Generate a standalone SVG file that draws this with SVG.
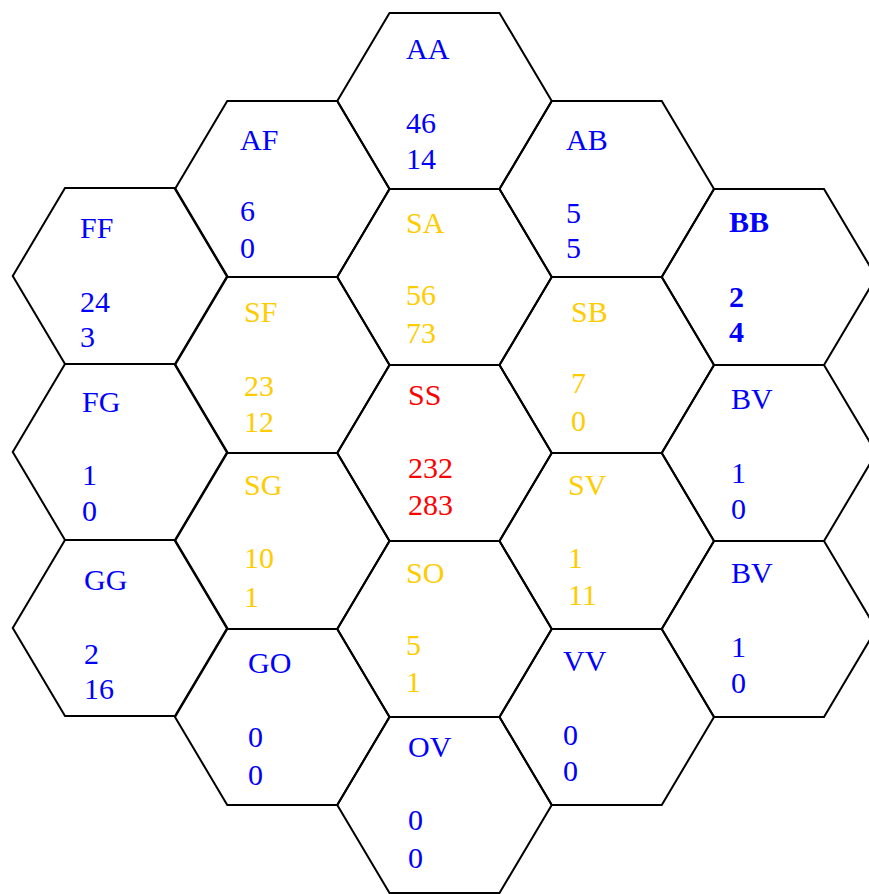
<svg xmlns="http://www.w3.org/2000/svg" xmlns:xlink="http://www.w3.org/1999/xlink" width="869" height="894" viewBox="0 0 869 894">
<style>
.bg{fill:#ffffff}
.hex{fill:none;stroke:#000000;stroke-width:2;stroke-linejoin:miter}
text{font-family:"Liberation Serif","Times New Roman",serif;font-size:30px}
.b{fill:#0000ff}
.y{fill:#ffcc00}
.r{fill:#ff0000}
.bold{font-weight:bold}
</style>
<defs>
<polygon id="hx" class="hex" points="-107.25,0 -55,-88 55,-88 107.25,0 55,88 -55,88"/>
</defs>
<rect class="bg" x="0" y="0" width="869" height="894"/>
<g id="AA"><use xlink:href="#hx" href="#hx" x="444.5" y="101"/><text class="b" x="406" y="59">AA</text><text class="b" x="406" y="133">46</text><text class="b" x="406" y="169">14</text></g>
<g id="AF"><use xlink:href="#hx" href="#hx" x="282.25" y="189"/><text class="b" x="240" y="150">AF</text><text class="b" x="240" y="221">6</text><text class="b" x="240" y="258">0</text></g>
<g id="AB"><use xlink:href="#hx" href="#hx" x="606.75" y="189"/><text class="b" x="566" y="150">AB</text><text class="b" x="566" y="223">5</text><text class="b" x="566" y="258">5</text></g>
<g id="FF"><use xlink:href="#hx" href="#hx" x="120" y="276"/><text class="b" x="80" y="238">FF</text><text class="b" x="80" y="312">24</text><text class="b" x="80" y="347">3</text></g>
<g id="SA"><use xlink:href="#hx" href="#hx" x="444.5" y="277"/><text class="y" x="406" y="233">SA</text><text class="y" x="406" y="305">56</text><text class="y" x="406" y="343">73</text></g>
<g id="BB"><use xlink:href="#hx" href="#hx" x="769" y="277"/><text class="b bold" x="729" y="232">BB</text><text class="b bold" x="729" y="307">2</text><text class="b bold" x="729" y="342">4</text></g>
<g id="SF"><use xlink:href="#hx" href="#hx" x="282.25" y="365"/><text class="y" x="244" y="322">SF</text><text class="y" x="244" y="396">23</text><text class="y" x="244" y="432">12</text></g>
<g id="SB"><use xlink:href="#hx" href="#hx" x="606.75" y="365"/><text class="y" x="571" y="322">SB</text><text class="y" x="571" y="393">7</text><text class="y" x="571" y="431">0</text></g>
<g id="FG"><use xlink:href="#hx" href="#hx" x="120" y="452"/><text class="b" x="82" y="412">FG</text><text class="b" x="82" y="485">1</text><text class="b" x="82" y="521">0</text></g>
<g id="SS"><use xlink:href="#hx" href="#hx" x="444.5" y="453"/><text class="r" x="408" y="405">SS</text><text class="r" x="408" y="478">232</text><text class="r" x="408" y="515">283</text></g>
<g id="BV1"><use xlink:href="#hx" href="#hx" x="769" y="453"/><text class="b" x="731" y="409">BV</text><text class="b" x="731" y="483">1</text><text class="b" x="731" y="519">0</text></g>
<g id="SG"><use xlink:href="#hx" href="#hx" x="282.25" y="541"/><text class="y" x="244" y="495">SG</text><text class="y" x="244" y="568">10</text><text class="y" x="244" y="607">1</text></g>
<g id="SV"><use xlink:href="#hx" href="#hx" x="606.75" y="541"/><text class="y" x="568" y="495">SV</text><text class="y" x="568" y="568">1</text><text class="y" x="568" y="605">11</text></g>
<g id="GG"><use xlink:href="#hx" href="#hx" x="120" y="628"/><text class="b" x="84" y="590">GG</text><text class="b" x="84" y="664">2</text><text class="b" x="84" y="699">16</text></g>
<g id="SO"><use xlink:href="#hx" href="#hx" x="444.5" y="629"/><text class="y" x="406" y="583">SO</text><text class="y" x="406" y="655">5</text><text class="y" x="406" y="692">1</text></g>
<g id="BV2"><use xlink:href="#hx" href="#hx" x="769" y="629"/><text class="b" x="731" y="583">BV</text><text class="b" x="731" y="657">1</text><text class="b" x="731" y="693">0</text></g>
<g id="GO"><use xlink:href="#hx" href="#hx" x="282.25" y="717"/><text class="b" x="248" y="673">GO</text><text class="b" x="248" y="747">0</text><text class="b" x="248" y="785">0</text></g>
<g id="VV"><use xlink:href="#hx" href="#hx" x="606.75" y="717"/><text class="b" x="563" y="671">VV</text><text class="b" x="563" y="745">0</text><text class="b" x="563" y="781">0</text></g>
<g id="OV"><use xlink:href="#hx" href="#hx" x="444.5" y="805"/><text class="b" x="408" y="757">OV</text><text class="b" x="408" y="830">0</text><text class="b" x="408" y="868">0</text></g>
<g id="connectors"></g>
</svg>
